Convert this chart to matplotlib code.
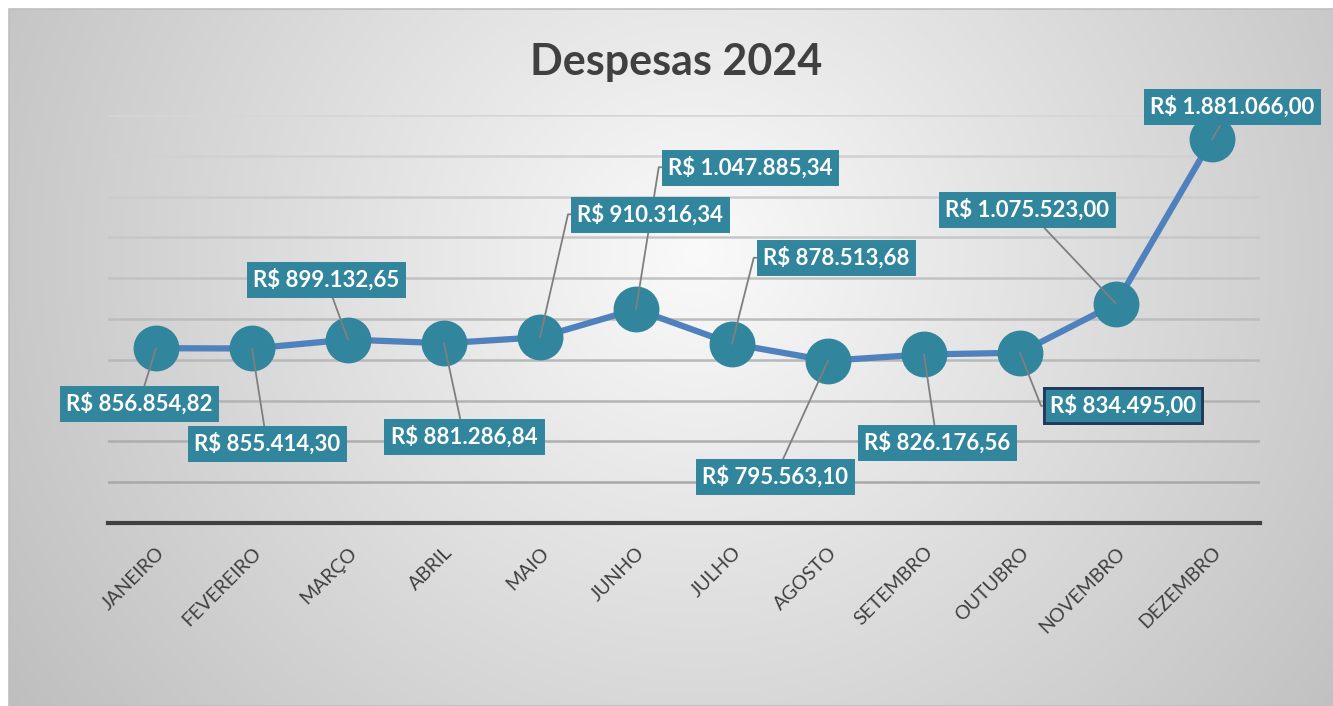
import numpy as np
import matplotlib
matplotlib.use("Agg")
from matplotlib import pyplot as plt
from matplotlib.patches import Rectangle
from matplotlib.transforms import ScaledTranslation

meses = ["JANEIRO", "FEVEREIRO", "MARÇO", "ABRIL", "MAIO", "JUNHO",
         "JULHO", "AGOSTO", "SETEMBRO", "OUTUBRO", "NOVEMBRO", "DEZEMBRO"]
despesas = [856854.82, 855414.30, 899132.65, 881286.84, 910316.34, 1047885.34,
            878513.68, 795563.10, 826176.56, 834495.00, 1075523.00, 1881066.00]
titulo = "Despesas 2024"

# where each data label sits, relative to its point (pixels), and how its leader leaves the box
label_offsets = [(-17, -55), (15, -95), (-22, 60), (20, -93), (110, 123), (114, 142),
                 (104, 86), (-53, -116), (13, -88), (103, -53), (-89, 94), (20, 33)]
elbow = [False, False, False, False, True, True, True, False, False, True, False, False]

W, H = 1333, 706
teal = "#31859C"
plt.rcParams["font.family"] = ["Lato", "DejaVu Sans"]


def brl(v):
    s = f"{v:,.2f}".replace(",", "X").replace(".", ",").replace("X", ".")
    return "R$ " + s


fig = plt.figure(figsize=(W / 100, H / 100), dpi=100)
fig.patch.set_facecolor("white")

# radial grey background of the chart area
bg = fig.add_axes([9 / W, 0, 1 - 9 / W, 1 - 9 / H])
xx, yy = np.meshgrid(np.linspace(0, 1, 400), np.linspace(0, 1, 220))
d = np.sqrt(((xx - 0.52) / 0.55) ** 2 + ((yy - 0.35) / 1.0) ** 2)
g = np.clip(250 - 52 * d, 185, 252) / 255.0
bg.imshow(np.dstack([g, g, g]), aspect="auto", extent=[0, 1, 1, 0], interpolation="bilinear")
bg.set_xlim(0, 1)
bg.set_ylim(1, 0)
bg.axis("off")
fig.add_artist(Rectangle((9 / W, 0), 1, 1 - 9 / H, transform=fig.transFigure,
                         fill=False, edgecolor="#bfbfbf", linewidth=1.2))

ax = fig.add_axes([108 / W, 1 - 523 / H, (1260 - 108) / W, (523 - 115) / H])
ax.set_facecolor("none")
x = np.arange(len(meses))
ax.set_xlim(-0.5, len(meses) - 0.5)
ax.set_ylim(0, 2000000)

for i, v in enumerate(range(200000, 2000001, 200000)):
    c = 0.66 + 0.18 * (i / 9)
    ax.axhline(v, color=(c, c, c), linewidth=1.8, zorder=1)

for s in ["top", "right", "left"]:
    ax.spines[s].set_visible(False)
ax.spines["bottom"].set_color("#404040")
ax.spines["bottom"].set_linewidth(3)
ax.set_yticks([])
ax.set_xticks(x)
ax.set_xticklabels(meses, rotation=45, ha="right", va="top", rotation_mode="anchor",
                   fontsize=14, color="#404040")
ax.tick_params(axis="x", length=0, pad=15)
for lab in ax.get_xticklabels():
    lab.set_transform(lab.get_transform() + ScaledTranslation(0, 0, fig.dpi_scale_trans))

ax.plot(x, despesas, color="#4F81BD", linewidth=4.5, zorder=3, solid_capstyle="round")
ax.plot(x, despesas, linestyle="none", marker="o", markersize=32,
        markerfacecolor=teal, markeredgecolor=teal, zorder=4)


def box(i):
    edge = "#1F3A5A" if i == 9 else teal
    return dict(boxstyle="square,pad=0.28", facecolor=teal, edgecolor=edge,
                linewidth=2 if i == 9 else 0.5)


# leader lines first, then every label box on top of all of them
for i, v in enumerate(despesas):
    if elbow[i]:
        arrow = dict(arrowstyle="-", color="#7f7f7f", linewidth=1.3, shrinkA=0, shrinkB=0,
                     relpos=(0, 0.5), connectionstyle="arc,angleA=180,armA=9,angleB=0,armB=0,rad=0")
    else:
        arrow = dict(arrowstyle="-", color="#7f7f7f", linewidth=1.3, shrinkA=0, shrinkB=0)
    ax.annotate(brl(v), xy=(x[i], v), xytext=label_offsets[i], textcoords="offset pixels",
                ha="center", va="center", fontsize=16, fontweight="bold", color="white",
                bbox=box(i), arrowprops=arrow, zorder=5, annotation_clip=False)
for i, v in enumerate(despesas):
    ax.annotate(brl(v), xy=(x[i], v), xytext=label_offsets[i], textcoords="offset pixels",
                ha="center", va="center", fontsize=16, fontweight="bold", color="white",
                bbox=box(i), zorder=6, annotation_clip=False)

fig.text(676 / W, 1 - 62 / H, titulo, ha="center", va="center", fontsize=31,
         fontweight="bold", color="#404040")

fig.savefig("out.png", dpi=100)
